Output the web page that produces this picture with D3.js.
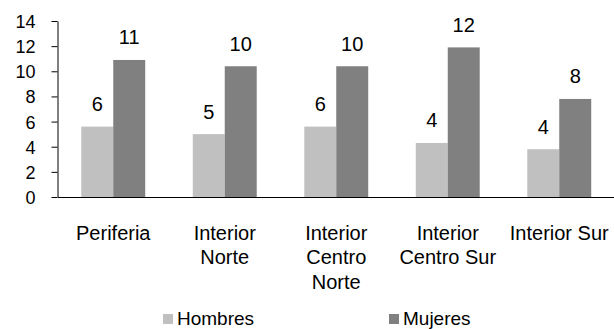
<!DOCTYPE html>
<html>
<head>
<meta charset="utf-8">
<script src="https://cdn.jsdelivr.net/npm/d3@7"></script>
<style>
  html, body { margin: 0; padding: 0; background: #fff; }
  svg { display: block; font-family: "Liberation Sans", Arial, sans-serif; }
</style>
</head>
<body>
<svg id="chart" width="614" height="329"></svg>
<script>
// Regions and the two series plotted for each one
const categories = ["Periferia", "Interior Norte", "Interior Centro Norte", "Interior Centro Sur", "Interior Sur"];
const seriesNames = ["Hombres", "Mujeres"];
const hombres = [5.6, 5.0, 5.6, 4.3, 3.8];
const mujeres = [10.9, 10.4, 10.4, 11.9, 7.8];
const yTicks = [0, 2, 4, 6, 8, 10, 12, 14];
const colors = ["#c0c0c0", "#808080"];

const svg = d3.select("#chart");
const plotLeft = 57.5, plotRight = 615, plotTop = 21, plotBottom = 197;

const x = d3.scaleBand().domain(categories).range([plotLeft, plotRight])
  .paddingInner(0.4265).paddingOuter(0.21325);
const xInner = d3.scaleBand().domain(seriesNames).range([0, x.bandwidth()]);
const y = d3.scaleLinear().domain([0, 14]).range([plotBottom, plotTop]);

const rows = categories.map((c, i) => ({ cat: c, values: [hombres[i], mujeres[i]] }));

// Bars
const groups = svg.append("g").selectAll("g").data(rows).join("g")
  .attr("transform", d => `translate(${x(d.cat)},0)`);
groups.selectAll("rect")
  .data(d => d.values.map((v, k) => ({ name: seriesNames[k], v, k })))
  .join("rect")
  .attr("x", d => xInner(d.name))
  .attr("width", xInner.bandwidth())
  .attr("y", d => y(d.v))
  .attr("height", d => y(0) - y(d.v))
  .attr("fill", d => colors[d.k]);

// Value labels above each bar
const fmt = d3.format(".0f");
groups.selectAll("text")
  .data(d => d.values.map((v, k) => ({ name: seriesNames[k], v, k })))
  .join("text")
  .attr("x", d => xInner(d.name) + xInner.bandwidth() / 2)
  .attr("y", d => y(d.v) - 15.5)
  .attr("text-anchor", "middle")
  .attr("font-size", 20)
  .attr("fill", "#000")
  .text(d => fmt(d.v));

// Y axis
const yAxis = svg.append("g").attr("transform", `translate(${plotLeft},0)`)
  .call(d3.axisLeft(y).tickValues(yTicks).tickSize(6).tickSizeOuter(0).tickPadding(16));
yAxis.select(".domain").attr("stroke", "#000");
yAxis.selectAll(".tick line").attr("stroke", "#000");
yAxis.selectAll(".tick text").attr("font-size", 18).attr("font-family", "Liberation Sans, Arial, sans-serif")
  .attr("fill", "#000").attr("dy", "0.36em");

// X axis with wrapped category labels
const xAxis = svg.append("g").attr("transform", `translate(0,${plotBottom})`)
  .call(d3.axisBottom(x).tickSize(0).tickSizeOuter(0));
xAxis.select(".domain").attr("stroke", "#000");
xAxis.selectAll(".tick text")
  .attr("font-size", 20).attr("font-family", "Liberation Sans, Arial, sans-serif")
  .attr("fill", "#000").attr("y", 42.5).attr("dy", null)
  .each(function () { wrap(d3.select(this), 104, 24.5); });

function wrap(text, width, lineHeight) {
  const words = text.text().split(/\s+/);
  const y0 = text.attr("y");
  text.text(null);
  let line = [];
  let lineNo = 0;
  let tspan = text.append("tspan").attr("x", 0).attr("y", y0);
  words.forEach(w => {
    line.push(w);
    tspan.text(line.join(" "));
    if (tspan.node().getComputedTextLength() > width && line.length > 1) {
      line.pop();
      tspan.text(line.join(" "));
      line = [w];
      lineNo++;
      tspan = text.append("tspan").attr("x", 0).attr("y", +y0 + lineNo * lineHeight).text(w);
    }
  });
}

// Legend
const legendX = [163, 389];
const legend = svg.append("g").selectAll("g").data(seriesNames).join("g")
  .attr("transform", (d, i) => `translate(${legendX[i]},314)`);
legend.append("rect").attr("width", 10).attr("height", 10).attr("fill", (d, i) => colors[i]);
legend.append("text").attr("x", 14).attr("y", 10.5).attr("font-size", 19).attr("fill", "#000").text(d => d);
</script>
</body>
</html>
